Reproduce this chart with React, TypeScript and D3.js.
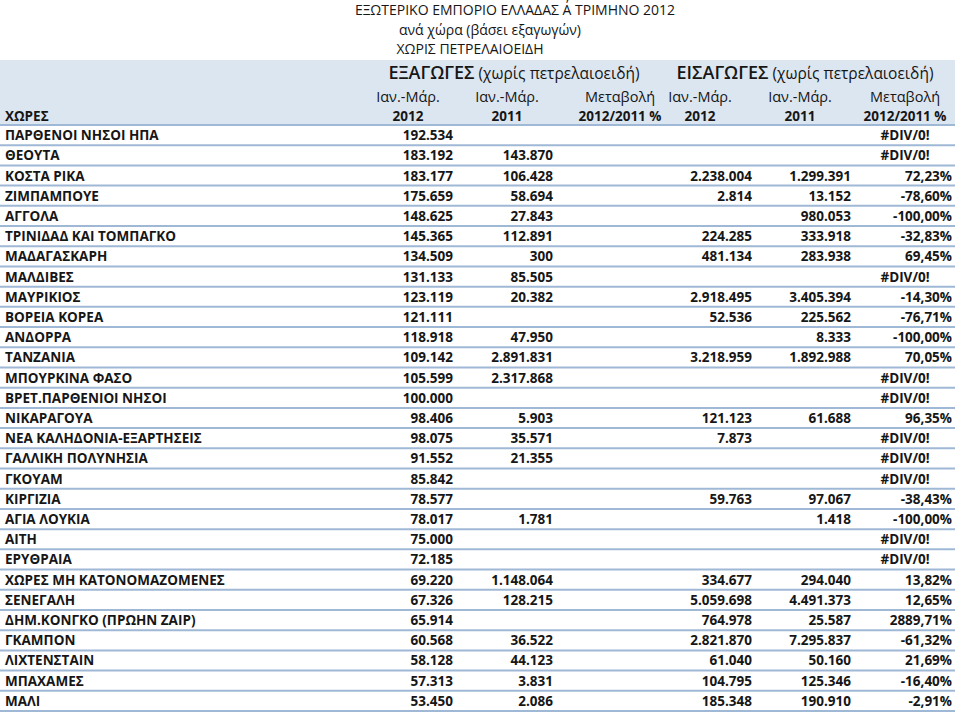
import React from "react";
import * as d3 from "d3";

const titleLines = [
  "ΕΞΩΤΕΡΙΚΟ ΕΜΠΟΡΙΟ ΕΛΛΑΔΑΣ Α΄ ΤΡΙΜΗΝΟ 2012",
  "ανά χώρα (βάσει εξαγωγών)",
  "ΧΩΡΙΣ ΠΕΤΡΕΛΑΙΟΕΙΔΗ",
];

const countries = [
  "ΠΑΡΘΕΝΟΙ ΝΗΣΟΙ ΗΠΑ", "ΘΕΟΥΤΑ", "ΚΟΣΤΑ ΡΙΚΑ", "ΖΙΜΠΑΜΠΟΥΕ", "ΑΓΓΟΛΑ",
  "ΤΡΙΝΙΔΑΔ ΚΑΙ ΤΟΜΠΑΓΚΟ", "ΜΑΔΑΓΑΣΚΑΡΗ", "ΜΑΛΔΙΒΕΣ", "ΜΑΥΡΙΚΙΟΣ", "ΒΟΡΕΙΑ ΚΟΡΕΑ",
  "ΑΝΔΟΡΡΑ", "ΤΑΝΖΑΝΙΑ", "ΜΠΟΥΡΚΙΝΑ ΦΑΣΟ", "ΒΡΕΤ.ΠΑΡΘΕΝΙΟΙ ΝΗΣΟΙ", "ΝΙΚΑΡΑΓΟΥΑ",
  "ΝΕΑ ΚΑΛΗΔΟΝΙΑ-ΕΞΑΡΤΗΣΕΙΣ", "ΓΑΛΛΙΚΗ ΠΟΛΥΝΗΣΙΑ", "ΓΚΟΥΑΜ", "ΚΙΡΓΙΖΙΑ", "ΑΓΙΑ ΛΟΥΚΙΑ",
  "ΑΙΤΗ", "ΕΡΥΘΡΑΙΑ", "ΧΩΡΕΣ ΜΗ ΚΑΤΟΝΟΜΑΖΟΜΕΝΕΣ", "ΣΕΝΕΓΑΛΗ", "ΔΗΜ.ΚΟΝΓΚΟ (ΠΡΩΗΝ ΖΑΙΡ)",
  "ΓΚΑΜΠΟΝ", "ΛΙΧΤΕΝΣΤΑΙΝ", "ΜΠΑΧΑΜΕΣ", "ΜΑΛΙ",
];

const exports2012: (number | null)[] = [
  192534, 183192, 183177, 175659, 148625, 145365, 134509, 131133, 123119, 121111,
  118918, 109142, 105599, 100000, 98406, 98075, 91552, 85842, 78577, 78017,
  75000, 72185, 69220, 67326, 65914, 60568, 58128, 57313, 53450,
];
const exports2011: (number | null)[] = [
  null, 143870, 106428, 58694, 27843, 112891, 300, 85505, 20382, null,
  47950, 2891831, 2317868, null, 5903, 35571, 21355, null, null, 1781,
  null, null, 1148064, 128215, null, 36522, 44123, 3831, 2086,
];
const exportsChange: (number | null)[] = countries.map(() => null);
const imports2012: (number | null)[] = [
  null, null, 2238004, 2814, null, 224285, 481134, null, 2918495, 52536,
  null, 3218959, null, null, 121123, 7873, null, null, 59763, null,
  null, null, 334677, 5059698, 764978, 2821870, 61040, 104795, 185348,
];
const imports2011: (number | null)[] = [
  null, null, 1299391, 13152, 980053, 333918, 283938, null, 3405394, 225562,
  8333, 1892988, null, null, 61688, null, null, null, 97067, 1418,
  null, null, 294040, 4491373, 25587, 7295837, 50160, 125346, 190910,
];
const importsChange: (number | null)[] = [
  null, null, 72.23, -78.6, -100, -32.83, 69.45, null, -14.3, -76.71,
  -100, 70.05, null, null, 96.35, null, null, null, -38.43, -100,
  null, null, 13.82, 12.65, 2889.71, -61.32, 21.69, -16.4, -2.91,
];

const groupHeaders = ["ΕΞΑΓΩΓΕΣ", "ΕΙΣΑΓΩΓΕΣ"];
const groupSuffix = " (χωρίς πετρελαιοειδή)";
const colHeadTop = ["Ιαν.-Μάρ.", "Ιαν.-Μάρ.", "Μεταβολή", "Ιαν.-Μάρ.", "Ιαν.-Μάρ.", "Μεταβολή"];
const colHeadBottom = ["2012", "2011", "2012/2011 %", "2012", "2011", "2012/2011 %"];
const firstHeader = "ΧΩΡΕΣ";

const locale = d3.formatLocale({ decimal: ",", thousands: ".", grouping: [3], currency: ["€", ""] });
const fmtInt = locale.format(",d");
const fmtPct = (v: number) => v.toFixed(2).replace(".", ",") + "%";

const FONT = "'Open Sans', 'Noto Sans', sans-serif";

export default function App() {
  const W = 960, H = 712;
  const y = d3.scaleBand<string>().domain(countries).range([125, 711]).padding(0);
  const bw = y.bandwidth();
  const colCenter = [408, 507, 620, 700, 800, 905];
  const colRight = [453, 553, 660, 752, 851, 952];
  const valueCols = [exports2012, exports2011, exportsChange, imports2012, imports2011];
  const groupCenters = [514, 805];
  const titleCenters = [515, 490, 470];
  const ink = "#161616";

  return (
    <svg width={W} height={H} style={{ position: "absolute", left: 0, top: 0, background: "#fff" }}
      fontFamily={FONT}>
      <rect x={0} y={0} width={W} height={H} fill="#ffffff" />
      {titleLines.map((t, i) => (
        <text key={i} x={titleCenters[i]} y={15 + i * 19.5} textAnchor="middle" fontSize={14}
          fontWeight={500} fill={ink}>{t}</text>
      ))}
      <rect x={0} y={60} width={955} height={65} fill="#dce6f1" />
      {groupHeaders.map((g, i) => (
        <text key={g} x={groupCenters[i]} y={79} textAnchor="middle" fill={ink}>
          <tspan fontSize={18} fontWeight={600}>{g}</tspan>
          <tspan fontSize={15.5}>{groupSuffix}</tspan>
        </text>
      ))}
      {colHeadTop.map((t, i) => (
        <text key={"t" + i} x={colCenter[i]} y={102} textAnchor="middle" fontSize={14.5} fill={ink}>{t}</text>
      ))}
      {colHeadBottom.map((t, i) => (
        <text key={"b" + i} x={colCenter[i]} y={121} textAnchor="middle" fontSize={13.5}
          fontWeight={700} fill={ink}>{t}</text>
      ))}
      <text x={5} y={121} fontSize={13.5} fontWeight={700} fill={ink}>{firstHeader}</text>
      <line x1={0} x2={955} y1={125} y2={125} stroke="#9fb8d6" strokeWidth={2} />
      {countries.map((c, r) => {
        const top = y(c)!;
        const base = top + bw / 2 + 5;
        return (
          <g key={c}>
            <line x1={0} x2={955} y1={top + bw} y2={top + bw} stroke="#9fb8d6" strokeWidth={2} />
            <text x={5} y={base} fontSize={13.5} fontWeight={700} fill={ink}>{c}</text>
            {valueCols.map((arr, ci) =>
              arr[r] == null ? null : (
                <text key={ci} x={colRight[ci]} y={base} textAnchor="end" fontSize={13.5}
                  fontWeight={700} fill={ink}>{fmtInt(arr[r] as number)}</text>
              )
            )}
            {importsChange[r] == null ? (
              <text x={colCenter[5]} y={base} textAnchor="middle" fontSize={13.5} fontWeight={700}
                fill={ink}>#DIV/0!</text>
            ) : (
              <text x={colRight[5]} y={base} textAnchor="end" fontSize={13.5} fontWeight={700}
                fill={ink}>{fmtPct(importsChange[r] as number)}</text>
            )}
          </g>
        );
      })}
    </svg>
  );
}
